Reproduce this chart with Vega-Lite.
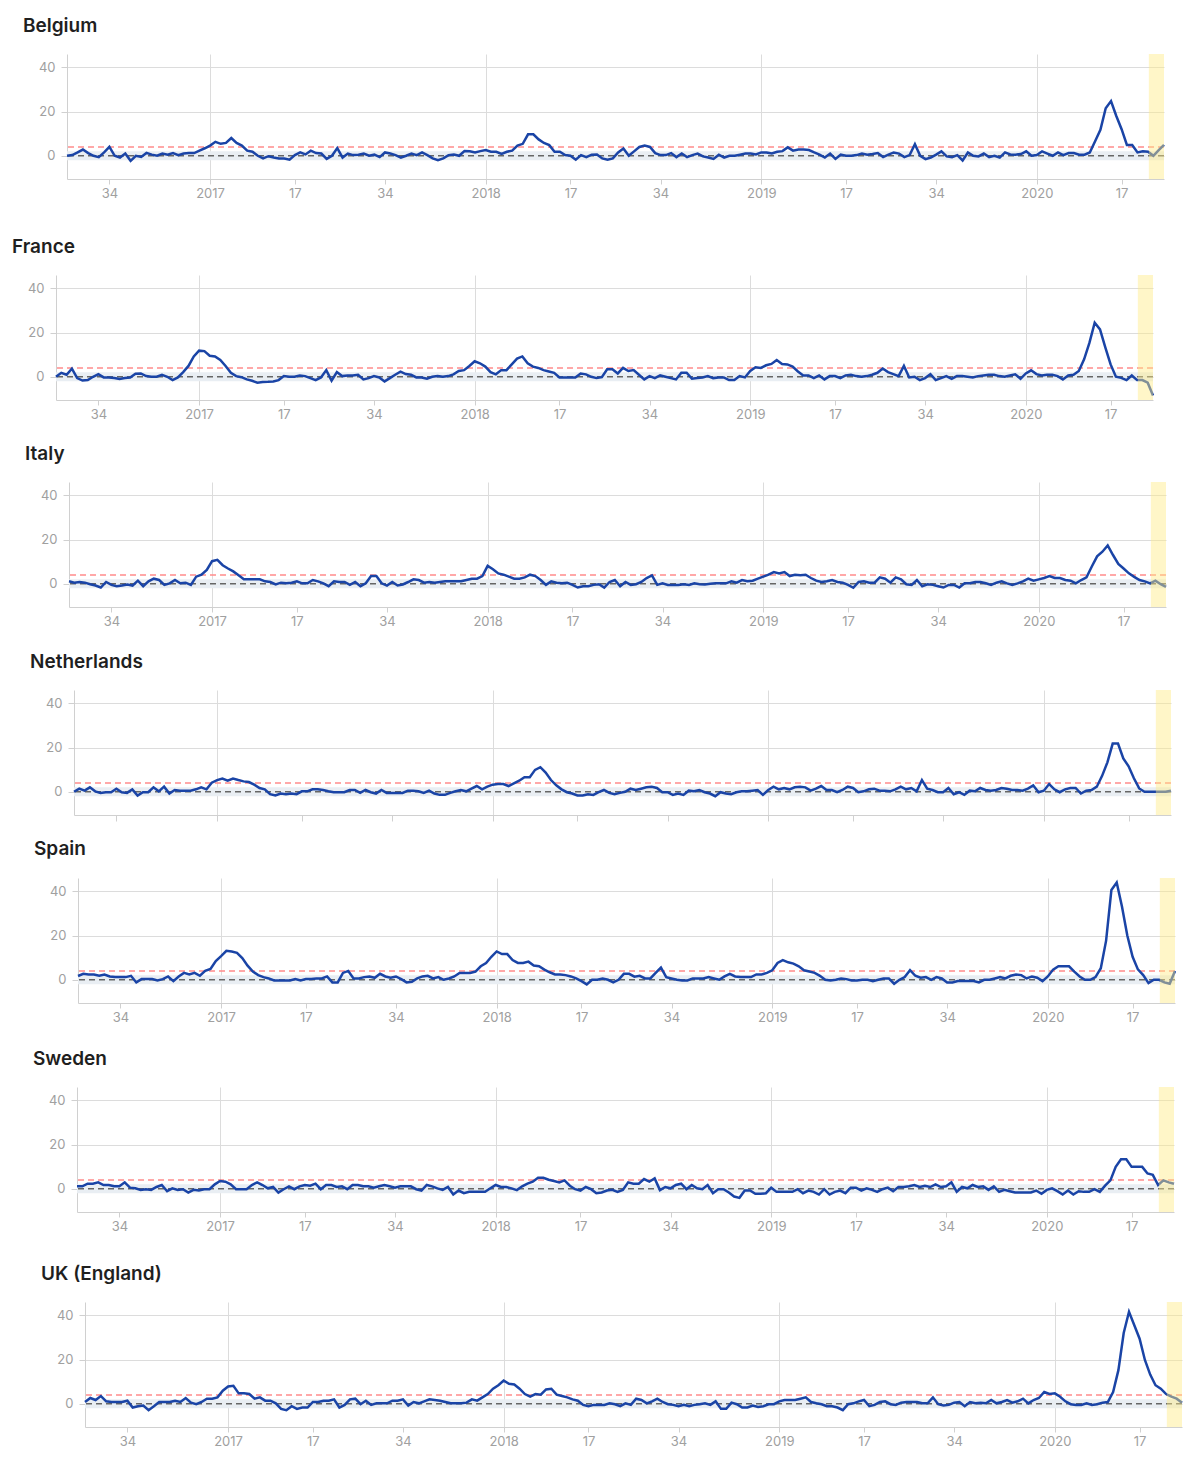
{
"$schema": "https://vega.github.io/schema/vega-lite/v6.json",
"padding": {"left": 0, "top": 17, "right": 0, "bottom": 0},
"vconcat": [
{"spacing": 0, "hconcat": [
 {"width": 17, "height": 1, "data": {"values": [{}]}, "mark": {"type": "point", "opacity": 0}, "encoding": {}},
 {"width": 1097, "height": 125, "title": {"text": "Belgium", "dx": -44},
 "layer": [
  {"data": {"values": [{}]}, "mark": {"type": "rect", "color": "#e9eef3"}, "encoding": {"y": {"datum": -2, "type": "quantitative"}, "y2": {"datum": 2}}},
  {"data": {"values": [{}]}, "mark": {"type": "rule", "color": "#666666", "strokeDash": [6, 4], "strokeWidth": 1.5}, "encoding": {"y": {"datum": 0, "type": "quantitative"}}},
  {"data": {"values": [{}]}, "mark": {"type": "rule", "color": "#ff8c8c", "strokeDash": [6, 4], "strokeWidth": 1.5}, "encoding": {"y": {"datum": 4, "type": "quantitative"}}},
  {"data": {"name": "m"}, "mark": {"type": "line", "color": "#1a44a6", "strokeWidth": 2.5}, "encoding": {
    "x": {"field": "d", "type": "temporal", "title": null, "scale": {"type": "utc", "domain": [{"year": 2016, "month": 6, "date": 30, "utc": true}, {"year": 2020, "month": 6, "date": 18, "utc": true}], "nice": false},
      "axis": {"values": [{"year": 2016, "month": 8, "date": 25, "utc": true}, {"year": 2017, "month": 1, "date": 5, "utc": true}, {"year": 2017, "month": 4, "date": 27, "utc": true}, {"year": 2017, "month": 8, "date": 24, "utc": true}, {"year": 2018, "month": 1, "date": 4, "utc": true}, {"year": 2018, "month": 4, "date": 26, "utc": true}, {"year": 2018, "month": 8, "date": 23, "utc": true}, {"year": 2019, "month": 1, "date": 3, "utc": true}, {"year": 2019, "month": 4, "date": 25, "utc": true}, {"year": 2019, "month": 8, "date": 22, "utc": true}, {"year": 2020, "month": 1, "date": 2, "utc": true}, {"year": 2020, "month": 4, "date": 23, "utc": true}],
        "labelExpr": "utcmonth(datum.value) === 0 ? utcFormat(datum.value, '%Y') : utcFormat(datum.value, '%V')",
        "grid": true, "gridOpacity": {"condition": {"test": "utcmonth(datum.value) === 0", "value": 1}, "value": 0},
        "tickSize": 5, "labelPadding": 3, "labelFlush": false, "minExtent": 58.3, "maxExtent": 58.3}},
    "y": {"field": "BE", "type": "quantitative", "title": null, "scale": {"domain": [-10.5, 46], "nice": false, "zero": false},
      "axis": {"values": [0, 20, 40], "grid": true, "tickSize": 6, "labelPadding": 6, "minExtent": 50, "maxExtent": 50}}}},
  {"data": {"values": [{"s": "2020-05-29", "e": "2020-06-18"}]}, "mark": {"type": "rect", "color": "#ffea85", "opacity": 0.45}, "encoding": {"x": {"field": "s", "type": "temporal", "title": null}, "x2": {"field": "e"}}}
 ]}]},
{"spacing": 0, "hconcat": [
 {"width": 6, "height": 1, "data": {"values": [{}]}, "mark": {"type": "point", "opacity": 0}, "encoding": {}},
 {"width": 1097, "height": 125, "title": {"text": "France", "dx": -44},
 "layer": [
  {"data": {"values": [{}]}, "mark": {"type": "rect", "color": "#e9eef3"}, "encoding": {"y": {"datum": -2, "type": "quantitative"}, "y2": {"datum": 2}}},
  {"data": {"values": [{}]}, "mark": {"type": "rule", "color": "#666666", "strokeDash": [6, 4], "strokeWidth": 1.5}, "encoding": {"y": {"datum": 0, "type": "quantitative"}}},
  {"data": {"values": [{}]}, "mark": {"type": "rule", "color": "#ff8c8c", "strokeDash": [6, 4], "strokeWidth": 1.5}, "encoding": {"y": {"datum": 4, "type": "quantitative"}}},
  {"data": {"name": "m"}, "mark": {"type": "line", "color": "#1a44a6", "strokeWidth": 2.5}, "encoding": {
    "x": {"field": "d", "type": "temporal", "title": null, "scale": {"type": "utc", "domain": [{"year": 2016, "month": 6, "date": 30, "utc": true}, {"year": 2020, "month": 6, "date": 18, "utc": true}], "nice": false},
      "axis": {"values": [{"year": 2016, "month": 8, "date": 25, "utc": true}, {"year": 2017, "month": 1, "date": 5, "utc": true}, {"year": 2017, "month": 4, "date": 27, "utc": true}, {"year": 2017, "month": 8, "date": 24, "utc": true}, {"year": 2018, "month": 1, "date": 4, "utc": true}, {"year": 2018, "month": 4, "date": 26, "utc": true}, {"year": 2018, "month": 8, "date": 23, "utc": true}, {"year": 2019, "month": 1, "date": 3, "utc": true}, {"year": 2019, "month": 4, "date": 25, "utc": true}, {"year": 2019, "month": 8, "date": 22, "utc": true}, {"year": 2020, "month": 1, "date": 2, "utc": true}, {"year": 2020, "month": 4, "date": 23, "utc": true}],
        "labelExpr": "utcmonth(datum.value) === 0 ? utcFormat(datum.value, '%Y') : utcFormat(datum.value, '%V')",
        "grid": true, "gridOpacity": {"condition": {"test": "utcmonth(datum.value) === 0", "value": 1}, "value": 0},
        "tickSize": 5, "labelPadding": 3, "labelFlush": false, "minExtent": 44.8, "maxExtent": 44.8}},
    "y": {"field": "FR", "type": "quantitative", "title": null, "scale": {"domain": [-10.5, 46], "nice": false, "zero": false},
      "axis": {"values": [0, 20, 40], "grid": true, "tickSize": 6, "labelPadding": 6, "minExtent": 50, "maxExtent": 50}}}},
  {"data": {"values": [{"s": "2020-05-29", "e": "2020-06-18"}]}, "mark": {"type": "rect", "color": "#ffea85", "opacity": 0.45}, "encoding": {"x": {"field": "s", "type": "temporal", "title": null}, "x2": {"field": "e"}}}
 ]}]},
{"spacing": 0, "hconcat": [
 {"width": 19, "height": 1, "data": {"values": [{}]}, "mark": {"type": "point", "opacity": 0}, "encoding": {}},
 {"width": 1097, "height": 125, "title": {"text": "Italy", "dx": -44},
 "layer": [
  {"data": {"values": [{}]}, "mark": {"type": "rect", "color": "#e9eef3"}, "encoding": {"y": {"datum": -2, "type": "quantitative"}, "y2": {"datum": 2}}},
  {"data": {"values": [{}]}, "mark": {"type": "rule", "color": "#666666", "strokeDash": [6, 4], "strokeWidth": 1.5}, "encoding": {"y": {"datum": 0, "type": "quantitative"}}},
  {"data": {"values": [{}]}, "mark": {"type": "rule", "color": "#ff8c8c", "strokeDash": [6, 4], "strokeWidth": 1.5}, "encoding": {"y": {"datum": 4, "type": "quantitative"}}},
  {"data": {"name": "m"}, "mark": {"type": "line", "color": "#1a44a6", "strokeWidth": 2.5}, "encoding": {
    "x": {"field": "d", "type": "temporal", "title": null, "scale": {"type": "utc", "domain": [{"year": 2016, "month": 6, "date": 30, "utc": true}, {"year": 2020, "month": 6, "date": 18, "utc": true}], "nice": false},
      "axis": {"values": [{"year": 2016, "month": 8, "date": 25, "utc": true}, {"year": 2017, "month": 1, "date": 5, "utc": true}, {"year": 2017, "month": 4, "date": 27, "utc": true}, {"year": 2017, "month": 8, "date": 24, "utc": true}, {"year": 2018, "month": 1, "date": 4, "utc": true}, {"year": 2018, "month": 4, "date": 26, "utc": true}, {"year": 2018, "month": 8, "date": 23, "utc": true}, {"year": 2019, "month": 1, "date": 3, "utc": true}, {"year": 2019, "month": 4, "date": 25, "utc": true}, {"year": 2019, "month": 8, "date": 22, "utc": true}, {"year": 2020, "month": 1, "date": 2, "utc": true}, {"year": 2020, "month": 4, "date": 23, "utc": true}],
        "labelExpr": "utcmonth(datum.value) === 0 ? utcFormat(datum.value, '%Y') : utcFormat(datum.value, '%V')",
        "grid": true, "gridOpacity": {"condition": {"test": "utcmonth(datum.value) === 0", "value": 1}, "value": 0},
        "tickSize": 5, "labelPadding": 3, "labelFlush": false, "minExtent": 45.8, "maxExtent": 45.8}},
    "y": {"field": "IT", "type": "quantitative", "title": null, "scale": {"domain": [-10.5, 46], "nice": false, "zero": false},
      "axis": {"values": [0, 20, 40], "grid": true, "tickSize": 6, "labelPadding": 6, "minExtent": 50, "maxExtent": 50}}}},
  {"data": {"values": [{"s": "2020-05-29", "e": "2020-06-18"}]}, "mark": {"type": "rect", "color": "#ffea85", "opacity": 0.45}, "encoding": {"x": {"field": "s", "type": "temporal", "title": null}, "x2": {"field": "e"}}}
 ]}]},
{"spacing": 0, "hconcat": [
 {"width": 24, "height": 1, "data": {"values": [{}]}, "mark": {"type": "point", "opacity": 0}, "encoding": {}},
 {"width": 1097, "height": 125, "title": {"text": "Netherlands", "dx": -44},
 "layer": [
  {"data": {"values": [{}]}, "mark": {"type": "rect", "color": "#e9eef3"}, "encoding": {"y": {"datum": -2, "type": "quantitative"}, "y2": {"datum": 2}}},
  {"data": {"values": [{}]}, "mark": {"type": "rule", "color": "#666666", "strokeDash": [6, 4], "strokeWidth": 1.5}, "encoding": {"y": {"datum": 0, "type": "quantitative"}}},
  {"data": {"values": [{}]}, "mark": {"type": "rule", "color": "#ff8c8c", "strokeDash": [6, 4], "strokeWidth": 1.5}, "encoding": {"y": {"datum": 4, "type": "quantitative"}}},
  {"data": {"name": "m"}, "mark": {"type": "line", "color": "#1a44a6", "strokeWidth": 2.5}, "encoding": {
    "x": {"field": "d", "type": "temporal", "title": null, "scale": {"type": "utc", "domain": [{"year": 2016, "month": 6, "date": 30, "utc": true}, {"year": 2020, "month": 6, "date": 18, "utc": true}], "nice": false},
      "axis": {"values": [{"year": 2016, "month": 8, "date": 25, "utc": true}, {"year": 2017, "month": 1, "date": 5, "utc": true}, {"year": 2017, "month": 4, "date": 27, "utc": true}, {"year": 2017, "month": 8, "date": 24, "utc": true}, {"year": 2018, "month": 1, "date": 4, "utc": true}, {"year": 2018, "month": 4, "date": 26, "utc": true}, {"year": 2018, "month": 8, "date": 23, "utc": true}, {"year": 2019, "month": 1, "date": 3, "utc": true}, {"year": 2019, "month": 4, "date": 25, "utc": true}, {"year": 2019, "month": 8, "date": 22, "utc": true}, {"year": 2020, "month": 1, "date": 2, "utc": true}, {"year": 2020, "month": 4, "date": 23, "utc": true}],
        "labels": false,
        "grid": true, "gridOpacity": {"condition": {"test": "utcmonth(datum.value) === 0", "value": 1}, "value": 0},
        "tickSize": 6, "minExtent": 24.8, "maxExtent": 24.8}},
    "y": {"field": "NL", "type": "quantitative", "title": null, "scale": {"domain": [-10.5, 46], "nice": false, "zero": false},
      "axis": {"values": [0, 20, 40], "grid": true, "tickSize": 6, "labelPadding": 6, "minExtent": 50, "maxExtent": 50}}}},
  {"data": {"values": [{"s": "2020-05-29", "e": "2020-06-18"}]}, "mark": {"type": "rect", "color": "#ffea85", "opacity": 0.45}, "encoding": {"x": {"field": "s", "type": "temporal", "title": null}, "x2": {"field": "e"}}}
 ]}]},
{"spacing": 0, "hconcat": [
 {"width": 28, "height": 1, "data": {"values": [{}]}, "mark": {"type": "point", "opacity": 0}, "encoding": {}},
 {"width": 1097, "height": 125, "title": {"text": "Spain", "dx": -44},
 "layer": [
  {"data": {"values": [{}]}, "mark": {"type": "rect", "color": "#e9eef3"}, "encoding": {"y": {"datum": -2, "type": "quantitative"}, "y2": {"datum": 2}}},
  {"data": {"values": [{}]}, "mark": {"type": "rule", "color": "#666666", "strokeDash": [6, 4], "strokeWidth": 1.5}, "encoding": {"y": {"datum": 0, "type": "quantitative"}}},
  {"data": {"values": [{}]}, "mark": {"type": "rule", "color": "#ff8c8c", "strokeDash": [6, 4], "strokeWidth": 1.5}, "encoding": {"y": {"datum": 4, "type": "quantitative"}}},
  {"data": {"name": "m"}, "mark": {"type": "line", "color": "#1a44a6", "strokeWidth": 2.5}, "encoding": {
    "x": {"field": "d", "type": "temporal", "title": null, "scale": {"type": "utc", "domain": [{"year": 2016, "month": 6, "date": 30, "utc": true}, {"year": 2020, "month": 6, "date": 18, "utc": true}], "nice": false},
      "axis": {"values": [{"year": 2016, "month": 8, "date": 25, "utc": true}, {"year": 2017, "month": 1, "date": 5, "utc": true}, {"year": 2017, "month": 4, "date": 27, "utc": true}, {"year": 2017, "month": 8, "date": 24, "utc": true}, {"year": 2018, "month": 1, "date": 4, "utc": true}, {"year": 2018, "month": 4, "date": 26, "utc": true}, {"year": 2018, "month": 8, "date": 23, "utc": true}, {"year": 2019, "month": 1, "date": 3, "utc": true}, {"year": 2019, "month": 4, "date": 25, "utc": true}, {"year": 2019, "month": 8, "date": 22, "utc": true}, {"year": 2020, "month": 1, "date": 2, "utc": true}, {"year": 2020, "month": 4, "date": 23, "utc": true}],
        "labelExpr": "utcmonth(datum.value) === 0 ? utcFormat(datum.value, '%Y') : utcFormat(datum.value, '%V')",
        "grid": true, "gridOpacity": {"condition": {"test": "utcmonth(datum.value) === 0", "value": 1}, "value": 0},
        "tickSize": 5, "labelPadding": 3, "labelFlush": false, "minExtent": 46.5, "maxExtent": 46.5}},
    "y": {"field": "ES", "type": "quantitative", "title": null, "scale": {"domain": [-10.5, 46], "nice": false, "zero": false},
      "axis": {"values": [0, 20, 40], "grid": true, "tickSize": 6, "labelPadding": 6, "minExtent": 50, "maxExtent": 50}}}},
  {"data": {"values": [{"s": "2020-05-29", "e": "2020-06-18"}]}, "mark": {"type": "rect", "color": "#ffea85", "opacity": 0.45}, "encoding": {"x": {"field": "s", "type": "temporal", "title": null}, "x2": {"field": "e"}}}
 ]}]},
{"spacing": 0, "hconcat": [
 {"width": 27, "height": 1, "data": {"values": [{}]}, "mark": {"type": "point", "opacity": 0}, "encoding": {}},
 {"width": 1097, "height": 125, "title": {"text": "Sweden", "dx": -44},
 "layer": [
  {"data": {"values": [{}]}, "mark": {"type": "rect", "color": "#e9eef3"}, "encoding": {"y": {"datum": -2, "type": "quantitative"}, "y2": {"datum": 2}}},
  {"data": {"values": [{}]}, "mark": {"type": "rule", "color": "#666666", "strokeDash": [6, 4], "strokeWidth": 1.5}, "encoding": {"y": {"datum": 0, "type": "quantitative"}}},
  {"data": {"values": [{}]}, "mark": {"type": "rule", "color": "#ff8c8c", "strokeDash": [6, 4], "strokeWidth": 1.5}, "encoding": {"y": {"datum": 4, "type": "quantitative"}}},
  {"data": {"name": "m"}, "mark": {"type": "line", "color": "#1a44a6", "strokeWidth": 2.5}, "encoding": {
    "x": {"field": "d", "type": "temporal", "title": null, "scale": {"type": "utc", "domain": [{"year": 2016, "month": 6, "date": 30, "utc": true}, {"year": 2020, "month": 6, "date": 18, "utc": true}], "nice": false},
      "axis": {"values": [{"year": 2016, "month": 8, "date": 25, "utc": true}, {"year": 2017, "month": 1, "date": 5, "utc": true}, {"year": 2017, "month": 4, "date": 27, "utc": true}, {"year": 2017, "month": 8, "date": 24, "utc": true}, {"year": 2018, "month": 1, "date": 4, "utc": true}, {"year": 2018, "month": 4, "date": 26, "utc": true}, {"year": 2018, "month": 8, "date": 23, "utc": true}, {"year": 2019, "month": 1, "date": 3, "utc": true}, {"year": 2019, "month": 4, "date": 25, "utc": true}, {"year": 2019, "month": 8, "date": 22, "utc": true}, {"year": 2020, "month": 1, "date": 2, "utc": true}, {"year": 2020, "month": 4, "date": 23, "utc": true}],
        "labelExpr": "utcmonth(datum.value) === 0 ? utcFormat(datum.value, '%Y') : utcFormat(datum.value, '%V')",
        "grid": true, "gridOpacity": {"condition": {"test": "utcmonth(datum.value) === 0", "value": 1}, "value": 0},
        "tickSize": 5, "labelPadding": 3, "labelFlush": false, "minExtent": 52.1, "maxExtent": 52.1}},
    "y": {"field": "SE", "type": "quantitative", "title": null, "scale": {"domain": [-10.5, 46], "nice": false, "zero": false},
      "axis": {"values": [0, 20, 40], "grid": true, "tickSize": 6, "labelPadding": 6, "minExtent": 50, "maxExtent": 50}}}},
  {"data": {"values": [{"s": "2020-05-29", "e": "2020-06-18"}]}, "mark": {"type": "rect", "color": "#ffea85", "opacity": 0.45}, "encoding": {"x": {"field": "s", "type": "temporal", "title": null}, "x2": {"field": "e"}}}
 ]}]},
{"spacing": 0, "hconcat": [
 {"width": 35, "height": 1, "data": {"values": [{}]}, "mark": {"type": "point", "opacity": 0}, "encoding": {}},
 {"width": 1097, "height": 125, "title": {"text": "UK (England)", "dx": -44},
 "layer": [
  {"data": {"values": [{}]}, "mark": {"type": "rect", "color": "#e9eef3"}, "encoding": {"y": {"datum": -2, "type": "quantitative"}, "y2": {"datum": 2}}},
  {"data": {"values": [{}]}, "mark": {"type": "rule", "color": "#666666", "strokeDash": [6, 4], "strokeWidth": 1.5}, "encoding": {"y": {"datum": 0, "type": "quantitative"}}},
  {"data": {"values": [{}]}, "mark": {"type": "rule", "color": "#ff8c8c", "strokeDash": [6, 4], "strokeWidth": 1.5}, "encoding": {"y": {"datum": 4, "type": "quantitative"}}},
  {"data": {"name": "m"}, "mark": {"type": "line", "color": "#1a44a6", "strokeWidth": 2.5}, "encoding": {
    "x": {"field": "d", "type": "temporal", "title": null, "scale": {"type": "utc", "domain": [{"year": 2016, "month": 6, "date": 30, "utc": true}, {"year": 2020, "month": 6, "date": 18, "utc": true}], "nice": false},
      "axis": {"values": [{"year": 2016, "month": 8, "date": 25, "utc": true}, {"year": 2017, "month": 1, "date": 5, "utc": true}, {"year": 2017, "month": 4, "date": 27, "utc": true}, {"year": 2017, "month": 8, "date": 24, "utc": true}, {"year": 2018, "month": 1, "date": 4, "utc": true}, {"year": 2018, "month": 4, "date": 26, "utc": true}, {"year": 2018, "month": 8, "date": 23, "utc": true}, {"year": 2019, "month": 1, "date": 3, "utc": true}, {"year": 2019, "month": 4, "date": 25, "utc": true}, {"year": 2019, "month": 8, "date": 22, "utc": true}, {"year": 2020, "month": 1, "date": 2, "utc": true}, {"year": 2020, "month": 4, "date": 23, "utc": true}],
        "labelExpr": "utcmonth(datum.value) === 0 ? utcFormat(datum.value, '%Y') : utcFormat(datum.value, '%V')",
        "grid": true, "gridOpacity": {"condition": {"test": "utcmonth(datum.value) === 0", "value": 1}, "value": 0},
        "tickSize": 5, "labelPadding": 3, "labelFlush": false}},
    "y": {"field": "UK", "type": "quantitative", "title": null, "scale": {"domain": [-10.5, 46], "nice": false, "zero": false},
      "axis": {"values": [0, 20, 40], "grid": true, "tickSize": 6, "labelPadding": 6, "minExtent": 50, "maxExtent": 50}}}},
  {"data": {"values": [{"s": "2020-05-29", "e": "2020-06-18"}]}, "mark": {"type": "rect", "color": "#ffea85", "opacity": 0.45}, "encoding": {"x": {"field": "s", "type": "temporal", "title": null}, "x2": {"field": "e"}}}
 ]}]}
],
"spacing": 0,
"datasets": {"m": [
{"d":"2016-06-30","BE":0,"FR":0,"IT":1.1,"NL":0,"ES":1.7,"SE":1.1,"UK":0.8},
{"d":"2016-07-07","BE":0.3,"FR":1.8,"IT":0.5,"NL":1.4,"ES":2.7,"SE":1.1,"UK":2.6},
{"d":"2016-07-14","BE":1.5,"FR":0.9,"IT":0.8,"NL":0.5,"ES":2.4,"SE":2.3,"UK":1.7},
{"d":"2016-07-21","BE":2.8,"FR":3.7,"IT":0.5,"NL":2,"ES":2.4,"SE":2.3,"UK":3.5},
{"d":"2016-07-28","BE":1.2,"FR":-0.6,"IT":-0.2,"NL":0.2,"ES":1.8,"SE":2.9,"UK":1.1},
{"d":"2016-08-04","BE":0,"FR":-1.7,"IT":-0.8,"NL":-0.5,"ES":2.4,"SE":1.7,"UK":0.8},
{"d":"2016-08-11","BE":-0.6,"FR":-1.5,"IT":-1.7,"NL":-0.2,"ES":1.5,"SE":1.7,"UK":0.8},
{"d":"2016-08-18","BE":1.5,"FR":0,"IT":0.8,"NL":-0.2,"ES":1.2,"SE":1.1,"UK":0.8},
{"d":"2016-08-25","BE":4,"FR":1.2,"IT":-0.5,"NL":1.4,"ES":1.2,"SE":1.1,"UK":1.4},
{"d":"2016-09-01","BE":0,"FR":-0.3,"IT":-1.1,"NL":-0.2,"ES":1.2,"SE":2.9,"UK":-1.7},
{"d":"2016-09-08","BE":-0.8,"FR":-0.3,"IT":-0.8,"NL":-0.5,"ES":1.8,"SE":0.5,"UK":-1.1},
{"d":"2016-09-15","BE":1,"FR":-0.6,"IT":-0.3,"NL":1.1,"ES":-1.2,"SE":0.2,"UK":-0.8},
{"d":"2016-09-22","BE":-2.3,"FR":-1,"IT":-0.8,"NL":-1.7,"ES":0.3,"SE":-0.5,"UK":-2.9},
{"d":"2016-09-29","BE":0,"FR":-0.6,"IT":1.4,"NL":-0.2,"ES":0.3,"SE":-0.2,"UK":-1.1},
{"d":"2016-10-06","BE":-0.5,"FR":-0.3,"IT":-1.1,"NL":-0.2,"ES":0.3,"SE":-0.5,"UK":0.8},
{"d":"2016-10-13","BE":1.3,"FR":1.4,"IT":1.1,"NL":2,"ES":-0.3,"SE":0.8,"UK":0.8},
{"d":"2016-10-20","BE":0.5,"FR":1.5,"IT":2.3,"NL":0.2,"ES":0.3,"SE":1.7,"UK":0.8},
{"d":"2016-10-27","BE":0,"FR":0.3,"IT":1.7,"NL":2.3,"ES":1.5,"SE":-1.1,"UK":1.4},
{"d":"2016-11-03","BE":1,"FR":0,"IT":-0.5,"NL":-0.8,"ES":-0.6,"SE":0.2,"UK":0.8},
{"d":"2016-11-10","BE":0.5,"FR":0,"IT":0.2,"NL":0.8,"ES":1.5,"SE":-0.5,"UK":2.6},
{"d":"2016-11-17","BE":1.2,"FR":0.9,"IT":1.7,"NL":0.5,"ES":3.1,"SE":-0.2,"UK":0.5},
{"d":"2016-11-24","BE":0.3,"FR":0,"IT":0.2,"NL":0.5,"ES":2.4,"SE":-1.7,"UK":-0.2},
{"d":"2016-12-01","BE":1,"FR":-1.5,"IT":0.5,"NL":0.5,"ES":3.1,"SE":-0.5,"UK":0.8},
{"d":"2016-12-08","BE":1.2,"FR":-0.3,"IT":-0.5,"NL":1.1,"ES":1.8,"SE":-0.8,"UK":2.3},
{"d":"2016-12-15","BE":1.2,"FR":2.1,"IT":3.2,"NL":2,"ES":4,"SE":-0.2,"UK":2.3},
{"d":"2016-12-22","BE":2.3,"FR":4.9,"IT":4.1,"NL":1.1,"ES":4.9,"SE":-0.2,"UK":2.9},
{"d":"2016-12-29","BE":3.4,"FR":9.2,"IT":6.3,"NL":4.1,"ES":8.5,"SE":2,"UK":5.9},
{"d":"2017-01-05","BE":4.6,"FR":11.8,"IT":10.2,"NL":5.3,"ES":10.7,"SE":3.5,"UK":7.8},
{"d":"2017-01-12","BE":6.3,"FR":11.6,"IT":10.8,"NL":6,"ES":13.1,"SE":3.2,"UK":8.1},
{"d":"2017-01-19","BE":5.4,"FR":9.5,"IT":8.4,"NL":5,"ES":12.8,"SE":2,"UK":4.7},
{"d":"2017-01-26","BE":5.8,"FR":9.2,"IT":6.9,"NL":6,"ES":12.2,"SE":-0.2,"UK":4.7},
{"d":"2017-02-02","BE":8,"FR":7.6,"IT":5.6,"NL":5.3,"ES":9.8,"SE":-0.2,"UK":4.4},
{"d":"2017-02-09","BE":5.8,"FR":4.9,"IT":3.8,"NL":4.7,"ES":6.4,"SE":-0.2,"UK":2.3},
{"d":"2017-02-16","BE":4.6,"FR":1.8,"IT":2,"NL":4.4,"ES":3.7,"SE":1.7,"UK":2.9},
{"d":"2017-02-23","BE":2.3,"FR":0.3,"IT":2,"NL":3.2,"ES":2.1,"SE":2.9,"UK":1.4},
{"d":"2017-03-02","BE":1.8,"FR":-0.2,"IT":2,"NL":1.7,"ES":1.2,"SE":1.7,"UK":1.4},
{"d":"2017-03-09","BE":0,"FR":-1.2,"IT":2,"NL":1.1,"ES":0.6,"SE":0.2,"UK":0.2},
{"d":"2017-03-16","BE":-1.2,"FR":-1.8,"IT":1.1,"NL":-1.1,"ES":-0.3,"SE":0.8,"UK":-2.3},
{"d":"2017-03-23","BE":-0.2,"FR":-2.7,"IT":0.8,"NL":-1.7,"ES":-0.3,"SE":-1.7,"UK":-2.9},
{"d":"2017-03-30","BE":-0.8,"FR":-2.4,"IT":-0.3,"NL":-0.8,"ES":-0.3,"SE":-0.2,"UK":-1.1},
{"d":"2017-04-06","BE":-1.2,"FR":-2.3,"IT":0.5,"NL":-1.1,"ES":-0.3,"SE":1.1,"UK":-2.3},
{"d":"2017-04-13","BE":-1.2,"FR":-2.1,"IT":0.2,"NL":-0.8,"ES":0.3,"SE":-0.2,"UK":-1.7},
{"d":"2017-04-20","BE":-1.8,"FR":-1.5,"IT":0.5,"NL":-1.1,"ES":-0.3,"SE":1.1,"UK":-1.7},
{"d":"2017-04-27","BE":0.3,"FR":0.3,"IT":1.1,"NL":0.2,"ES":0.3,"SE":1.7,"UK":0.8},
{"d":"2017-05-04","BE":1.5,"FR":0,"IT":0.2,"NL":0.2,"ES":0.3,"SE":1.4,"UK":0.8},
{"d":"2017-05-11","BE":0.6,"FR":0,"IT":0.2,"NL":1.1,"ES":0.6,"SE":2.3,"UK":1.4},
{"d":"2017-05-18","BE":2.3,"FR":0.6,"IT":1.7,"NL":1.1,"ES":0.6,"SE":-0.2,"UK":1.4},
{"d":"2017-05-25","BE":1.2,"FR":0.3,"IT":1.1,"NL":0.8,"ES":1.5,"SE":1.7,"UK":2},
{"d":"2017-06-01","BE":1,"FR":-0.6,"IT":0.2,"NL":0.2,"ES":-1.2,"SE":1.7,"UK":-1.7},
{"d":"2017-06-08","BE":-1.4,"FR":-1.5,"IT":-1.1,"NL":-0.2,"ES":-1.2,"SE":0.8,"UK":-0.5},
{"d":"2017-06-15","BE":0,"FR":-0.3,"IT":1.1,"NL":-0.2,"ES":3.1,"SE":1.1,"UK":2},
{"d":"2017-06-22","BE":3.5,"FR":3,"IT":0.8,"NL":-0.2,"ES":4,"SE":-0.2,"UK":2.3},
{"d":"2017-06-29","BE":-0.8,"FR":-1.8,"IT":0.8,"NL":0.8,"ES":0.6,"SE":1.7,"UK":-0.2},
{"d":"2017-07-06","BE":1,"FR":2.1,"IT":-0.5,"NL":0.8,"ES":0.6,"SE":1.7,"UK":1.4},
{"d":"2017-07-13","BE":0.3,"FR":0.3,"IT":0.8,"NL":-0.5,"ES":1.2,"SE":1.1,"UK":-0.5},
{"d":"2017-07-20","BE":0.5,"FR":0.6,"IT":-1.1,"NL":0.8,"ES":1.5,"SE":1.1,"UK":0.2},
{"d":"2017-07-27","BE":1,"FR":0.6,"IT":0.2,"NL":-0.2,"ES":0.9,"SE":0.5,"UK":0.2},
{"d":"2017-08-03","BE":0,"FR":0.9,"IT":3.5,"NL":-0.8,"ES":2.7,"SE":1.1,"UK":0.2},
{"d":"2017-08-10","BE":0.5,"FR":-1.2,"IT":3.5,"NL":0.8,"ES":1.5,"SE":1.7,"UK":1.4},
{"d":"2017-08-17","BE":-0.6,"FR":-0.6,"IT":0.2,"NL":-0.5,"ES":0.9,"SE":1.1,"UK":1.4},
{"d":"2017-08-24","BE":1.5,"FR":0.3,"IT":-0.8,"NL":-0.5,"ES":1.5,"SE":0.5,"UK":2},
{"d":"2017-08-31","BE":1,"FR":-0.3,"IT":0.8,"NL":-0.5,"ES":0.3,"SE":1.1,"UK":-0.8},
{"d":"2017-09-07","BE":0.3,"FR":-2.1,"IT":-0.8,"NL":-0.5,"ES":-1.2,"SE":1.1,"UK":0.8},
{"d":"2017-09-14","BE":-0.8,"FR":-0.6,"IT":-0.3,"NL":0.5,"ES":-0.9,"SE":1.1,"UK":0.2},
{"d":"2017-09-21","BE":0,"FR":0.9,"IT":0.8,"NL":0.5,"ES":0.6,"SE":-0.2,"UK":1.1},
{"d":"2017-09-28","BE":1,"FR":2.3,"IT":2,"NL":0.2,"ES":1.5,"SE":-0.8,"UK":2},
{"d":"2017-10-05","BE":0.3,"FR":1.2,"IT":1.7,"NL":-0.5,"ES":1.8,"SE":1.7,"UK":1.7},
{"d":"2017-10-12","BE":1.5,"FR":0.9,"IT":0.5,"NL":0.5,"ES":0.6,"SE":1.1,"UK":1.4},
{"d":"2017-10-19","BE":0.3,"FR":-0.3,"IT":0.8,"NL":-0.8,"ES":1.2,"SE":0.2,"UK":0.8},
{"d":"2017-10-26","BE":-1.2,"FR":-0.3,"IT":0.5,"NL":-1.4,"ES":0,"SE":-0.5,"UK":0.2},
{"d":"2017-11-02","BE":-2,"FR":-0.9,"IT":0.8,"NL":-1.4,"ES":0.6,"SE":0.8,"UK":0.2},
{"d":"2017-11-09","BE":-1.2,"FR":0,"IT":1.1,"NL":-0.5,"ES":1.5,"SE":-2.6,"UK":0.2},
{"d":"2017-11-16","BE":0.3,"FR":0.3,"IT":1.1,"NL":0.2,"ES":3.1,"SE":-0.8,"UK":0.5},
{"d":"2017-11-23","BE":0.6,"FR":0,"IT":1.1,"NL":0.8,"ES":3.1,"SE":-2,"UK":2},
{"d":"2017-11-30","BE":0,"FR":0.3,"IT":1.1,"NL":0.2,"ES":3.1,"SE":-1.4,"UK":1.4},
{"d":"2017-12-07","BE":2.1,"FR":1.1,"IT":1.7,"NL":1.4,"ES":3.7,"SE":-1.4,"UK":2.9},
{"d":"2017-12-14","BE":2,"FR":2.6,"IT":2.3,"NL":2.6,"ES":6.1,"SE":-1.4,"UK":4.4},
{"d":"2017-12-21","BE":1.5,"FR":3,"IT":2.3,"NL":1.1,"ES":7.6,"SE":-1.4,"UK":6.8},
{"d":"2017-12-28","BE":2.1,"FR":4.9,"IT":3.5,"NL":2.3,"ES":10.4,"SE":0.2,"UK":8.4},
{"d":"2018-01-04","BE":2.6,"FR":7,"IT":8.1,"NL":3.2,"ES":12.8,"SE":1.7,"UK":10.5},
{"d":"2018-01-11","BE":1.8,"FR":6.1,"IT":6.6,"NL":3.5,"ES":11.6,"SE":0.8,"UK":9},
{"d":"2018-01-18","BE":1.8,"FR":4.6,"IT":4.7,"NL":3.5,"ES":11.6,"SE":0.8,"UK":8.7},
{"d":"2018-01-25","BE":0.8,"FR":2.1,"IT":4.1,"NL":2.6,"ES":8.9,"SE":0.2,"UK":6.8},
{"d":"2018-02-01","BE":1.8,"FR":1.1,"IT":3.2,"NL":3.8,"ES":7.6,"SE":-0.6,"UK":4.4},
{"d":"2018-02-08","BE":2.3,"FR":3,"IT":2.3,"NL":5,"ES":7.6,"SE":1.1,"UK":3.2},
{"d":"2018-02-15","BE":4.6,"FR":3,"IT":2.3,"NL":6.6,"ES":8.2,"SE":2.3,"UK":4.4},
{"d":"2018-02-22","BE":5.4,"FR":5.6,"IT":2.9,"NL":6.6,"ES":6.4,"SE":3.2,"UK":4.1},
{"d":"2018-03-01","BE":9.7,"FR":8.2,"IT":4.1,"NL":9.9,"ES":6.1,"SE":5,"UK":6.5},
{"d":"2018-03-08","BE":9.7,"FR":9.2,"IT":3.5,"NL":11.1,"ES":4.6,"SE":5,"UK":6.8},
{"d":"2018-03-15","BE":7.4,"FR":6.1,"IT":1.7,"NL":8.7,"ES":3.4,"SE":4.1,"UK":4.1},
{"d":"2018-03-22","BE":5.8,"FR":4.6,"IT":-0.5,"NL":5.3,"ES":2.4,"SE":3.5,"UK":3.5},
{"d":"2018-03-29","BE":4.8,"FR":4,"IT":1.1,"NL":2.9,"ES":2.4,"SE":2.9,"UK":2.9},
{"d":"2018-04-05","BE":1.8,"FR":3,"IT":0.5,"NL":1.1,"ES":2.1,"SE":3.8,"UK":2},
{"d":"2018-04-12","BE":1.8,"FR":2.4,"IT":0.2,"NL":-0.2,"ES":1.5,"SE":1.4,"UK":1.4},
{"d":"2018-04-19","BE":0.3,"FR":1.8,"IT":0.5,"NL":-0.8,"ES":0.6,"SE":-0.2,"UK":-0.5},
{"d":"2018-04-26","BE":0,"FR":-0.3,"IT":-0.5,"NL":-1.7,"ES":-0.6,"SE":-0.8,"UK":-1.1},
{"d":"2018-05-03","BE":-1.8,"FR":-0.3,"IT":-1.7,"NL":-1.7,"ES":-2.1,"SE":0.8,"UK":-0.5},
{"d":"2018-05-10","BE":0.3,"FR":-0.3,"IT":-1.1,"NL":-1.1,"ES":0,"SE":-0.2,"UK":-0.5},
{"d":"2018-05-17","BE":-0.6,"FR":-0.3,"IT":-1.1,"NL":-1.4,"ES":0,"SE":-2,"UK":-0.5},
{"d":"2018-05-24","BE":0.5,"FR":1.5,"IT":-0.5,"NL":-0.2,"ES":0.6,"SE":-1.7,"UK":0.2},
{"d":"2018-05-31","BE":0.6,"FR":1.1,"IT":-0.2,"NL":0.8,"ES":0,"SE":-0.8,"UK":-0.2},
{"d":"2018-06-07","BE":-1.2,"FR":0,"IT":-1.7,"NL":-0.5,"ES":-1.2,"SE":-0.5,"UK":-1.1},
{"d":"2018-06-14","BE":-1.8,"FR":-0.6,"IT":0.8,"NL":-1.1,"ES":0,"SE":-1.4,"UK":0.2},
{"d":"2018-06-21","BE":-1.2,"FR":-0.2,"IT":1.7,"NL":-0.5,"ES":2.7,"SE":-0.5,"UK":-0.5},
{"d":"2018-06-28","BE":1.5,"FR":3.4,"IT":-1.1,"NL":0,"ES":2.7,"SE":2.9,"UK":2.3},
{"d":"2018-07-05","BE":3.3,"FR":3.4,"IT":0.8,"NL":1.4,"ES":1.4,"SE":2.3,"UK":1.7},
{"d":"2018-07-12","BE":0,"FR":1.5,"IT":-0.5,"NL":0.8,"ES":1.8,"SE":2.3,"UK":0.2},
{"d":"2018-07-19","BE":2,"FR":4,"IT":-0.2,"NL":1.4,"ES":0.6,"SE":4.4,"UK":1.1},
{"d":"2018-07-26","BE":4,"FR":2.6,"IT":0.8,"NL":2,"ES":0.6,"SE":3.2,"UK":2.3},
{"d":"2018-08-02","BE":4.6,"FR":3,"IT":2.6,"NL":2.3,"ES":3.1,"SE":4.7,"UK":0.8},
{"d":"2018-08-09","BE":4,"FR":0.9,"IT":3.8,"NL":1.7,"ES":5.5,"SE":-0.6,"UK":-0.2},
{"d":"2018-08-16","BE":1.2,"FR":-1.2,"IT":-0.5,"NL":-0.2,"ES":1.2,"SE":0.8,"UK":-0.5},
{"d":"2018-08-23","BE":0.3,"FR":0.3,"IT":0.2,"NL":-0.2,"ES":0.6,"SE":0.2,"UK":-1.1},
{"d":"2018-08-30","BE":0.3,"FR":-0.6,"IT":-0.5,"NL":-1.4,"ES":0,"SE":1.7,"UK":-0.5},
{"d":"2018-09-06","BE":1.2,"FR":0.6,"IT":-0.5,"NL":-0.8,"ES":-0.3,"SE":2.3,"UK":-1.1},
{"d":"2018-09-13","BE":-0.6,"FR":0,"IT":-0.5,"NL":-1.4,"ES":-0.3,"SE":-0.2,"UK":-0.5},
{"d":"2018-09-20","BE":1,"FR":-0.6,"IT":-0.2,"NL":0.5,"ES":0.6,"SE":1.7,"UK":-0.2},
{"d":"2018-09-27","BE":-0.6,"FR":-1.2,"IT":-0.5,"NL":0.2,"ES":0.6,"SE":0.2,"UK":0.2},
{"d":"2018-10-04","BE":0.3,"FR":1.8,"IT":0.2,"NL":0.8,"ES":0.6,"SE":-0.2,"UK":-0.5},
{"d":"2018-10-11","BE":1,"FR":1.8,"IT":-0.2,"NL":-0.2,"ES":1.2,"SE":1.7,"UK":1.1},
{"d":"2018-10-18","BE":-0.3,"FR":-0.9,"IT":-0.3,"NL":-0.8,"ES":0.6,"SE":-2,"UK":-2.3},
{"d":"2018-10-25","BE":-0.8,"FR":-0.6,"IT":0,"NL":-2,"ES":0,"SE":-0.2,"UK":-2.3},
{"d":"2018-11-01","BE":-1.4,"FR":-0.3,"IT":0.2,"NL":-0.2,"ES":1.5,"SE":-0.2,"UK":0.5},
{"d":"2018-11-08","BE":0.5,"FR":0.3,"IT":0.2,"NL":-0.8,"ES":2.7,"SE":-1.7,"UK":-0.2},
{"d":"2018-11-15","BE":-0.8,"FR":-0.6,"IT":0.2,"NL":-1.1,"ES":1.5,"SE":-3.5,"UK":-1.7},
{"d":"2018-11-22","BE":0,"FR":-0.3,"IT":1.1,"NL":-0.2,"ES":1.2,"SE":-4.1,"UK":-1.7},
{"d":"2018-11-29","BE":0,"FR":-0.3,"IT":0.5,"NL":0.2,"ES":1.2,"SE":-0.8,"UK":-0.8},
{"d":"2018-12-06","BE":0.5,"FR":-1.5,"IT":1.7,"NL":0.2,"ES":1.2,"SE":-0.8,"UK":-1.4},
{"d":"2018-12-13","BE":1,"FR":-1.5,"IT":1.1,"NL":0.5,"ES":2.4,"SE":-2.3,"UK":-1.1},
{"d":"2018-12-20","BE":1,"FR":0.3,"IT":1.4,"NL":0.8,"ES":2.4,"SE":-2.3,"UK":-0.2},
{"d":"2018-12-27","BE":0.6,"FR":-0.3,"IT":2.3,"NL":-1.4,"ES":3.1,"SE":-2,"UK":-0.2},
{"d":"2019-01-03","BE":1.5,"FR":2.6,"IT":3.2,"NL":0.8,"ES":4.3,"SE":0.5,"UK":1.1},
{"d":"2019-01-10","BE":1.5,"FR":4.3,"IT":4.1,"NL":2.3,"ES":7.6,"SE":-1.4,"UK":1.7},
{"d":"2019-01-17","BE":1,"FR":4,"IT":5.3,"NL":1.1,"ES":8.9,"SE":-1.4,"UK":1.7},
{"d":"2019-01-24","BE":1.8,"FR":5.2,"IT":4.7,"NL":1.7,"ES":7.9,"SE":-1.4,"UK":1.7},
{"d":"2019-01-31","BE":2.1,"FR":5.8,"IT":5.3,"NL":1.1,"ES":7.3,"SE":-1.4,"UK":2.3},
{"d":"2019-02-07","BE":3.8,"FR":7.6,"IT":3.5,"NL":2,"ES":6.1,"SE":-0.2,"UK":2.9},
{"d":"2019-02-14","BE":2.3,"FR":5.8,"IT":4.1,"NL":2.3,"ES":4.3,"SE":-2,"UK":0.8},
{"d":"2019-02-21","BE":2.8,"FR":5.6,"IT":3.8,"NL":2,"ES":3.7,"SE":-0.8,"UK":0.2},
{"d":"2019-02-28","BE":2.8,"FR":4.6,"IT":4.1,"NL":0.5,"ES":3.1,"SE":-1.4,"UK":-0.2},
{"d":"2019-03-07","BE":2.6,"FR":2.4,"IT":2.6,"NL":1.4,"ES":1.8,"SE":-2.6,"UK":-1.1},
{"d":"2019-03-14","BE":1.5,"FR":0.6,"IT":1.4,"NL":2.6,"ES":0,"SE":-0.2,"UK":-1.1},
{"d":"2019-03-21","BE":0.5,"FR":0.6,"IT":0.8,"NL":0.8,"ES":-0.3,"SE":-2.6,"UK":-1.7},
{"d":"2019-03-28","BE":-0.8,"FR":-0.6,"IT":1.1,"NL":0.8,"ES":0,"SE":-1.4,"UK":-2.9},
{"d":"2019-04-04","BE":1,"FR":0.6,"IT":1.7,"NL":-0.2,"ES":0.6,"SE":-0.8,"UK":-0.2},
{"d":"2019-04-11","BE":-1.4,"FR":-1.2,"IT":0.8,"NL":0.8,"ES":0.3,"SE":-2,"UK":0.2},
{"d":"2019-04-18","BE":0.5,"FR":0.3,"IT":0.5,"NL":2.3,"ES":-0.3,"SE":0.5,"UK":1.1},
{"d":"2019-04-25","BE":0,"FR":0.3,"IT":-0.5,"NL":1.7,"ES":-0.3,"SE":0.5,"UK":1.7},
{"d":"2019-05-02","BE":0,"FR":-0.6,"IT":-1.8,"NL":-0.2,"ES":0,"SE":-0.8,"UK":-1.1},
{"d":"2019-05-09","BE":0.3,"FR":0.6,"IT":0.8,"NL":0.2,"ES":0,"SE":0.2,"UK":-0.5},
{"d":"2019-05-16","BE":1,"FR":0.9,"IT":1.1,"NL":1.1,"ES":-0.6,"SE":-0.5,"UK":0.8},
{"d":"2019-05-23","BE":0.5,"FR":0.3,"IT":0.5,"NL":1.4,"ES":0,"SE":-1.4,"UK":1.1},
{"d":"2019-05-30","BE":0.8,"FR":0,"IT":0.5,"NL":0.5,"ES":0.6,"SE":-0.2,"UK":-0.2},
{"d":"2019-06-06","BE":1.2,"FR":0.3,"IT":2.9,"NL":0.5,"ES":0.6,"SE":0.5,"UK":-0.5},
{"d":"2019-06-13","BE":-0.6,"FR":0.9,"IT":2.3,"NL":0.2,"ES":-1.8,"SE":-1.1,"UK":0.5},
{"d":"2019-06-20","BE":0.5,"FR":1.8,"IT":0.5,"NL":1.1,"ES":0,"SE":0.8,"UK":0.8},
{"d":"2019-06-27","BE":1.5,"FR":3.7,"IT":2.9,"NL":2.3,"ES":1.2,"SE":0.8,"UK":0.8},
{"d":"2019-07-04","BE":1,"FR":2.1,"IT":2,"NL":1.1,"ES":4.3,"SE":1.1,"UK":0.8},
{"d":"2019-07-11","BE":-0.6,"FR":1.2,"IT":-0.2,"NL":1.7,"ES":1.8,"SE":1.7,"UK":0.2},
{"d":"2019-07-18","BE":0.3,"FR":0.3,"IT":-0.5,"NL":0.2,"ES":0.9,"SE":0.8,"UK":0.2},
{"d":"2019-07-25","BE":5.2,"FR":4.9,"IT":1.7,"NL":5.3,"ES":1.2,"SE":1.4,"UK":2.9},
{"d":"2019-08-01","BE":0,"FR":-0.3,"IT":-1.1,"NL":1.4,"ES":0,"SE":0.8,"UK":-0.2},
{"d":"2019-08-08","BE":-1.5,"FR":0,"IT":-0.2,"NL":0.8,"ES":1.2,"SE":2,"UK":-0.8},
{"d":"2019-08-15","BE":-0.8,"FR":-1.5,"IT":-0.5,"NL":-0.2,"ES":0.6,"SE":0.8,"UK":-0.5},
{"d":"2019-08-22","BE":0.5,"FR":-0.6,"IT":-1.1,"NL":-0.2,"ES":-1.2,"SE":1.1,"UK":0.5},
{"d":"2019-08-29","BE":2,"FR":1.2,"IT":-1.7,"NL":1.7,"ES":-1.2,"SE":2.9,"UK":0.8},
{"d":"2019-09-05","BE":-0.3,"FR":-1.5,"IT":-0.5,"NL":-1.1,"ES":-0.6,"SE":-1.4,"UK":-1.1},
{"d":"2019-09-12","BE":-0.6,"FR":-0.6,"IT":-0.5,"NL":-0.2,"ES":-0.6,"SE":0.8,"UK":0.8},
{"d":"2019-09-19","BE":0.3,"FR":0.3,"IT":-1.7,"NL":-1.4,"ES":-0.6,"SE":0.2,"UK":0.2},
{"d":"2019-09-26","BE":-2.1,"FR":-0.9,"IT":0.2,"NL":0.5,"ES":-0.6,"SE":1.7,"UK":0.5},
{"d":"2019-10-03","BE":1.5,"FR":0.3,"IT":0.2,"NL":0.2,"ES":-1.2,"SE":0.8,"UK":0.2},
{"d":"2019-10-10","BE":0,"FR":0.3,"IT":0.8,"NL":1.7,"ES":0,"SE":1.1,"UK":1.7},
{"d":"2019-10-17","BE":-0.3,"FR":0,"IT":0.8,"NL":0.8,"ES":0,"SE":-0.5,"UK":0.2},
{"d":"2019-10-24","BE":1,"FR":-0.3,"IT":0.2,"NL":0.5,"ES":0.6,"SE":1.1,"UK":0.8},
{"d":"2019-10-31","BE":-0.6,"FR":0.3,"IT":-0.5,"NL":0.8,"ES":1.2,"SE":-1.4,"UK":1.7},
{"d":"2019-11-07","BE":0,"FR":0.6,"IT":0.5,"NL":1.7,"ES":0.6,"SE":-0.5,"UK":0.5},
{"d":"2019-11-14","BE":-0.8,"FR":0.9,"IT":1.1,"NL":1.4,"ES":1.8,"SE":-1.1,"UK":1.1},
{"d":"2019-11-21","BE":1.5,"FR":0.9,"IT":0.2,"NL":0.8,"ES":2.4,"SE":-1.7,"UK":2.3},
{"d":"2019-11-28","BE":0.6,"FR":0.3,"IT":-0.5,"NL":0.8,"ES":2.1,"SE":-1.7,"UK":0.2},
{"d":"2019-12-05","BE":0.5,"FR":0,"IT":0.2,"NL":0.5,"ES":0.6,"SE":-1.7,"UK":1.7},
{"d":"2019-12-12","BE":0.8,"FR":0.6,"IT":1.1,"NL":1.4,"ES":1.5,"SE":-1.7,"UK":2.6},
{"d":"2019-12-19","BE":2,"FR":1.1,"IT":2.3,"NL":2.9,"ES":0.9,"SE":-0.8,"UK":5.3},
{"d":"2019-12-26","BE":0,"FR":-0.9,"IT":1.4,"NL":-0.2,"ES":-0.6,"SE":-2.3,"UK":4.4},
{"d":"2020-01-02","BE":0.3,"FR":1.5,"IT":2,"NL":0.5,"ES":1.5,"SE":-0.5,"UK":4.7},
{"d":"2020-01-09","BE":2,"FR":2.9,"IT":2.6,"NL":3.5,"ES":4.6,"SE":0.2,"UK":3.2},
{"d":"2020-01-16","BE":1,"FR":1.2,"IT":3.5,"NL":1.1,"ES":6.1,"SE":-1.1,"UK":1.1},
{"d":"2020-01-23","BE":0,"FR":0.6,"IT":2.6,"NL":-0.2,"ES":6.1,"SE":-2.6,"UK":-0.2},
{"d":"2020-01-30","BE":1.5,"FR":0.9,"IT":2.6,"NL":1.1,"ES":6.1,"SE":-0.8,"UK":-0.5},
{"d":"2020-02-06","BE":0.3,"FR":0.9,"IT":1.7,"NL":1.7,"ES":3.7,"SE":-2.6,"UK":-0.5},
{"d":"2020-02-13","BE":1.2,"FR":0.3,"IT":1.4,"NL":1.7,"ES":1.5,"SE":-1.1,"UK":0.2},
{"d":"2020-02-20","BE":1.2,"FR":-1.2,"IT":0.2,"NL":-0.8,"ES":0,"SE":-1.4,"UK":-0.5},
{"d":"2020-02-27","BE":0.5,"FR":0.6,"IT":1.7,"NL":0.5,"ES":0,"SE":-1.4,"UK":-0.2},
{"d":"2020-03-05","BE":0.5,"FR":0.9,"IT":2.9,"NL":0.8,"ES":1.2,"SE":-0.2,"UK":0.5},
{"d":"2020-03-12","BE":1.5,"FR":2.6,"IT":7.8,"NL":2.3,"ES":5.2,"SE":-1.4,"UK":0.8},
{"d":"2020-03-19","BE":6.6,"FR":7.9,"IT":12.4,"NL":7.2,"ES":17.7,"SE":1.4,"UK":5.3},
{"d":"2020-03-26","BE":11.7,"FR":15.3,"IT":14.5,"NL":13.3,"ES":40.6,"SE":3.8,"UK":15.2},
{"d":"2020-04-02","BE":21.5,"FR":24.4,"IT":17.3,"NL":21.8,"ES":44,"SE":9.9,"UK":32},
{"d":"2020-04-09","BE":24.7,"FR":21.4,"IT":13,"NL":21.8,"ES":33,"SE":13.3,"UK":41.6},
{"d":"2020-04-16","BE":18,"FR":13.3,"IT":9,"NL":15.1,"ES":20,"SE":13.3,"UK":35.5},
{"d":"2020-04-23","BE":12,"FR":5.6,"IT":6.9,"NL":11.5,"ES":10.4,"SE":9.9,"UK":29.4},
{"d":"2020-04-30","BE":4.9,"FR":0,"IT":4.7,"NL":6.1,"ES":4.7,"SE":9.9,"UK":19.8},
{"d":"2020-05-07","BE":4.9,"FR":-0.5,"IT":3.1,"NL":1.5,"ES":2.1,"SE":9.9,"UK":13.2},
{"d":"2020-05-14","BE":1.5,"FR":-1.5,"IT":1.7,"NL":0,"ES":-1.5,"SE":6.9,"UK":8.4},
{"d":"2020-05-21","BE":2,"FR":0.6,"IT":1.1,"NL":0,"ES":0,"SE":6.3,"UK":6.8},
{"d":"2020-05-28","BE":1.8,"FR":-1.5,"IT":0.2,"NL":0,"ES":0,"SE":1.7,"UK":4.4},
{"d":"2020-06-04","BE":0,"FR":-1.5,"IT":1.4,"NL":0,"ES":-1.2,"SE":3.8,"UK":3.2},
{"d":"2020-06-11","BE":2.5,"FR":-2.7,"IT":-0.2,"NL":0,"ES":-1.8,"SE":2.9,"UK":2.3},
{"d":"2020-06-18","BE":4.9,"FR":-8.5,"IT":-1.4,"NL":0.5,"ES":4,"SE":2.3,"UK":0.5}
]},
"config": {
  "view": {"stroke": null},
  "font": "Inter",
  "title": {"anchor": "start", "frame": "group", "fontSize": 19, "fontWeight": 600, "color": "#1f1f1f", "offset": 18, "font": "Inter"},
  "axis": {"labelColor": "#a0a0a0", "labelFontSize": 13, "labelFont": "Inter", "domainColor": "#d0d0d0", "tickColor": "#d0d0d0", "gridColor": "#dcdcdc", "labelAngle": 0}
}
}
